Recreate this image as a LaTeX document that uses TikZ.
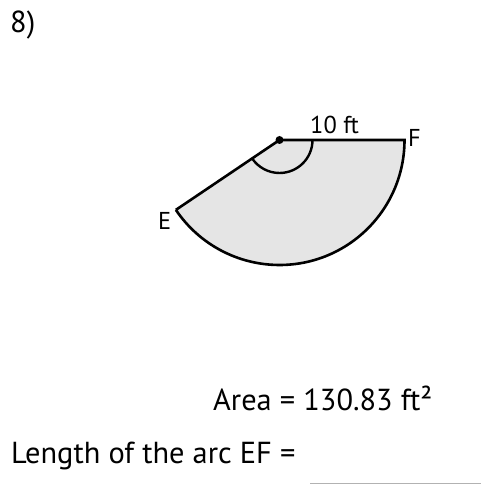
\documentclass[tikz,border=0pt]{standalone}
\usepackage{fontspec}
\setmainfont{PT Sans}
\begin{document}
\begin{tikzpicture}[x=1bp,y=1bp,
  edge/.style={line width=2.6bp,line join=miter},
  anglemark/.style={line width=2.4bp},
  sectorfill/.style={fill=black!10},
  bigtext/.style={inner sep=0,font=\fontsize{30.5}{36}\selectfont},
  smalltext/.style={inner sep=0,font=\fontsize{24.5}{29}\selectfont}]
\useasboundingbox (0,0) rectangle (481,485);
\coordinate (O) at (279.5,345);
\coordinate (F) at (404.5,345);
\path (O) ++(214:125) coordinate (E);
\path (O) ++(0:33) coordinate (A1);
\fill[sectorfill] (O) -- (F) arc[start angle=0,end angle=-146,radius=125] -- cycle;
\draw[anglemark] (A1) arc[start angle=0,end angle=-146,radius=33];
\draw[edge] (E) -- (O) -- (F) arc[start angle=0,end angle=-146,radius=125];
\fill (O) circle (4);
\node[smalltext,anchor=base west] (lab10) at (310,351) {10 ft};
\node[smalltext,anchor=base west] (labF) at (408,338) {F};
\node[smalltext,anchor=base west] (labE) at (158,255) {E};
\node[bigtext,anchor=base west] (num) at (10,452) {8)};
\node[bigtext,anchor=base west] (area) at (213,74) {Area = 130.83 ft²};
\node[bigtext,anchor=base west] (len) at (11,21) {Length of the arc EF =};
\coordinate (U1) at (310,1);
\coordinate (U2) at (481,1);
\draw[black!30,line width=1bp] (U1) -- (U2);
\end{tikzpicture}
\end{document}
